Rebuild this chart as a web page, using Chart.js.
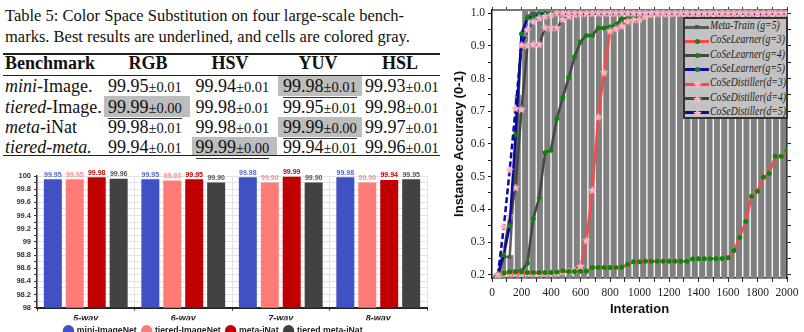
<!DOCTYPE html>
<html lang="en">
<head>
  <meta charset="UTF-8">
  <title>Color Space Substitution</title>
  <script src="https://cdn.jsdelivr.net/npm/chart.js@4"></script>
  <style>
    html, body { margin: 0; padding: 0; background: #fff; }
    body { width: 804px; height: 332px; position: relative; overflow: hidden; }
    #tabela { position: absolute; left: 0; top: 0; width: 440px; height: 160px; overflow: hidden;
      font-family: "Liberation Serif", "Times New Roman", serif; color: #111; }
    .cap { position: absolute; left: 5px; font-size: 16.5px; line-height: 20px; white-space: nowrap; }
    .regua { position: absolute; left: 3px; width: 440px; background: #222; }
    .cinza { position: absolute; background: #bdbdbd; }
    .cel { position: absolute; font-size: 18px; line-height: 20px; white-space: nowrap; }
    .cel small { font-size: 14.5px; }
    .cel.cab { font-weight: bold; }
    .sub { border-bottom: 1.2px solid #333; padding-bottom: 1px; }
    #barras { position: absolute; left: 0; top: 160px; }
    #linhas { position: absolute; left: 440px; top: 0; }
    #legenda { position: absolute; left: 683px; top: 17px; width: 101px; height: 98px;
      background: #c2c2c2; border: 2px solid #333; font-family: "Liberation Serif", serif;
      font-style: italic; font-size: 11.5px; color: #222; }
    .item { position: absolute; left: 0; height: 14px; width: 101px; }
    .amostra { position: absolute; left: 0; top: 5.5px; width: 24px; height: 3px; }
    .marca { position: absolute; }
    .item span.txt { position: absolute; left: 25px; top: -1px; white-space: nowrap;
      transform: scaleX(0.85); transform-origin: left center; }
  </style>
</head>
<body>
  <div id="tabela"></div>
  <canvas id="barras" width="440" height="185"></canvas>
  <canvas id="linhas" width="364" height="332"></canvas>
  <div id="legenda"></div>

  <script>
    // ---------- tabela ----------
    const colunasTabela = ['RGB', 'HSV', 'YUV', 'HSL'];
    const nomesItalico = ['mini', 'tiered', 'meta', 'tiered-meta.'];
    const nomesResto = ['-Image.', '-Image.', '-iNat', ''];
    const mediasTabela = [
      ['99.95', '99.94', '99.98', '99.93'],
      ['99.99', '99.98', '99.95', '99.98'],
      ['99.98', '99.98', '99.99', '99.97'],
      ['99.94', '99.99', '99.94', '99.96']
    ];
    const desviosTabela = [
      ['0.01', '0.01', '0.01', '0.01'],
      ['0.00', '0.01', '0.01', '0.01'],
      ['0.01', '0.01', '0.00', '0.01'],
      ['0.01', '0.00', '0.01', '0.01']
    ];
    const melhorColuna = [2, 0, 2, 1];

    // ---------- barras (n-way) ----------
    const categoriasWay = ['5-way', '6-way', '7-way', '8-way'];
    const miniImageNet = [99.95, 99.95, 99.98, 99.98];
    const tieredImageNet = [99.95, 99.93, 99.90, 99.90];
    const metaINat = [99.98, 99.95, 99.99, 99.94];
    const tieredMetaINat = [99.96, 99.90, 99.90, 99.95];

    // ---------- curvas de treino ----------
    const iteracoes = [40, 80, 120, 160, 200, 240, 280, 320, 360, 400,
      440, 480, 520, 560, 600, 640, 680, 720, 760, 800,
      840, 880, 920, 960, 1000, 1040, 1080, 1120, 1160, 1200,
      1240, 1280, 1320, 1360, 1400, 1440, 1480, 1520, 1560, 1600,
      1640, 1680, 1720, 1760, 1800, 1840, 1880, 1920, 1960, 2000];
    const metaTrain = [0.200, 0.254, 0.254, 0.560, 0.930, 0.990, 1.000, 1.000, 1.000, 1.000,
      1.000, 1.000, 1.000, 1.000, 1.000, 1.000, 1.000, 1.000, 1.000, 1.000,
      1.000, 1.000, 1.000, 1.000, 1.000, 1.000, 1.000, 1.000, 1.000, 1.000,
      1.000, 1.000, 1.000, 1.000, 1.000, 1.000, 1.000, 1.000, 1.000, 1.000,
      1.000, 1.000, 1.000, 1.000, 1.000, 1.000, 1.000, 1.000, 1.000, 1.000];
    const learnerG3 = [0.200, 0.205, 0.208, 0.208, 0.208, 0.207, 0.207, 0.207, 0.207, 0.207,
      0.208, 0.212, 0.210, 0.210, 0.211, 0.211, 0.222, 0.222, 0.222, 0.222,
      0.222, 0.223, 0.232, 0.240, 0.240, 0.241, 0.241, 0.241, 0.241, 0.241,
      0.241, 0.241, 0.241, 0.248, 0.249, 0.249, 0.249, 0.249, 0.250, 0.252,
      0.274, 0.314, 0.363, 0.440, 0.455, 0.498, 0.510, 0.562, 0.562, 0.580];
    const learnerG4 = [0.200, 0.205, 0.210, 0.210, 0.212, 0.235, 0.372, 0.435, 0.574, 0.581,
      0.678, 0.742, 0.803, 0.867, 0.912, 0.932, 0.932, 0.955, 0.955, 0.958,
      0.965, 0.983, 0.986, 0.988, 0.988, 0.992, 0.995, 0.998, 0.998, 0.998,
      0.999, 0.999, 0.999, 0.999, 0.999, 0.999, 0.999, 0.999, 0.999, 0.999,
      1.000, 1.000, 1.000, 1.000, 1.000, 1.000, 1.000, 1.000, 1.000, 1.000];
    const learnerG5 = [0.200, 0.260, 0.350, 0.629, 0.937, 0.985, 0.990, 0.995, 1.000, 1.000,
      1.000, 1.000, 1.000, 1.000, 1.000, 1.000, 1.000, 1.000, 1.000, 1.000,
      1.000, 1.000, 1.000, 1.000, 1.000, 1.000, 1.000, 1.000, 1.000, 1.000,
      1.000, 1.000, 1.000, 1.000, 1.000, 1.000, 1.000, 1.000, 1.000, 1.000,
      1.000, 1.000, 1.000, 1.000, 1.000, 1.000, 1.000, 1.000, 1.000, 1.000];
    const distillerD3 = [0.200, 0.203, 0.204, 0.204, 0.204, 0.204, 0.204, 0.204, 0.204, 0.205,
      0.205, 0.208, 0.210, 0.212, 0.225, 0.304, 0.458, 0.682, 0.818, 0.945,
      0.952, 0.960, 0.975, 0.979, 0.980, 0.988, 0.995, 0.998, 0.998, 0.998,
      0.999, 0.999, 0.999, 0.999, 0.999, 0.999, 0.999, 0.999, 0.999, 0.999,
      1.000, 1.000, 1.000, 1.000, 1.000, 1.000, 1.000, 1.000, 1.000, 1.000];
    const distillerD4 = [0.200, 0.270, 0.379, 0.466, 0.705, 0.900, 0.904, 0.904, 0.955, 0.955,
      0.955, 0.980, 0.990, 0.995, 0.998, 0.998, 0.999, 1.000, 1.000, 1.000,
      1.000, 1.000, 1.000, 1.000, 1.000, 1.000, 1.000, 1.000, 1.000, 1.000,
      1.000, 1.000, 1.000, 1.000, 1.000, 1.000, 1.000, 1.000, 1.000, 1.000,
      1.000, 1.000, 1.000, 1.000, 1.000, 1.000, 1.000, 1.000, 1.000, 1.000];
    const distillerD5 = [0.200, 0.346, 0.520, 0.708, 0.902, 0.948, 0.973, 0.985, 0.990, 0.995,
      1.000, 1.000, 1.000, 1.000, 1.000, 1.000, 1.000, 1.000, 1.000, 1.000,
      1.000, 1.000, 1.000, 1.000, 1.000, 1.000, 1.000, 1.000, 1.000, 1.000,
      1.000, 1.000, 1.000, 1.000, 1.000, 1.000, 1.000, 1.000, 1.000, 1.000,
      1.000, 1.000, 1.000, 1.000, 1.000, 1.000, 1.000, 1.000, 1.000, 1.000];
    // colunas cinza do Meta-Train ao fundo (uma a cada 50 iterações)
    const colunasMeta = [25, 75, 125, 175, 225, 275, 325, 375, 425, 475,
      525, 575, 625, 675, 725, 775, 825, 875, 925, 975,
      1025, 1075, 1125, 1175, 1225, 1275, 1325, 1375, 1425, 1475,
      1525, 1575, 1625, 1675, 1725, 1775, 1825, 1875, 1925, 1975];
    const alturasMeta = [0.200, 0.254, 0.260, 0.750, 1.010, 1.010, 1.010, 1.010, 1.010, 1.010,
      1.010, 1.010, 1.010, 1.010, 1.010, 1.010, 1.010, 1.010, 1.010, 1.010,
      1.010, 1.010, 1.010, 1.010, 1.010, 1.010, 1.010, 1.010, 1.010, 1.010,
      1.010, 1.010, 1.010, 1.010, 1.010, 1.010, 1.010, 1.010, 1.010, 1.010];

    // ===== monta a tabela =====
    const tab = document.getElementById('tabela');
    function add(html, cls, css) {
      const d = document.createElement('div');
      d.className = cls;
      d.innerHTML = html;
      Object.assign(d.style, css);
      tab.appendChild(d);
      return d;
    }
    add('Table 5: Color Space Substitution on four large-scale bench-', 'cap', { top: '6px' });
    add('marks. Best results are underlined, and cells are colored gray.', 'cap', { top: '27px' });
    add('', 'regua', { top: '53px', height: '1.6px' });
    add('', 'regua', { top: '74.5px', height: '1px' });
    add('', 'regua', { top: '154.5px', height: '1.6px' });

    const xCol = [108, 195.5, 283, 365];
    const cinzaX = [[104, 86], [191.5, 85.5], [278, 84], [362, 80]];
    const yLinha = [86, 106.5, 127, 147];
    const cinzaY = [[76, 20], [96, 21], [117, 20], [137, 18]];
    const centroCab = [148, 230, 318, 400];

    melhorColuna.forEach((c, r) => {
      add('', 'cinza', { left: cinzaX[c][0] + 'px', width: cinzaX[c][1] + 'px',
        top: cinzaY[r][0] + 'px', height: cinzaY[r][1] + 'px' });
    });
    add('Benchmark', 'cel cab', { left: '5px', top: '53px' });
    colunasTabela.forEach((t, c) => {
      const d = add(t, 'cel cab', { left: centroCab[c] + 'px', top: '53px' });
      d.style.transform = 'translateX(-50%)';
    });
    yLinha.forEach((y, r) => {
      add('<i>' + nomesItalico[r] + '</i>' + nomesResto[r], 'cel', { left: '5px', top: (y - 10) + 'px' });
      colunasTabela.forEach((t, c) => {
        let txt = mediasTabela[r][c] + '<small>±' + desviosTabela[r][c] + '</small>';
        if (melhorColuna[r] === c) txt = '<span class="sub">' + txt + '</span>';
        add(txt, 'cel', { left: xCol[c] + 'px', top: (y - 10) + 'px' });
      });
    });

    // ===== gráfico de barras =====
    const rotulosBarras = {
      id: 'rotulosBarras',
      afterDatasetsDraw(chart) {
        const ctx = chart.ctx;
        ctx.save();
        ctx.font = 'bold 7px "Liberation Sans Narrow", "Liberation Sans", sans-serif';
        ctx.textAlign = 'center';
        ctx.textBaseline = 'bottom';
        chart.data.datasets.forEach((ds, i) => {
          chart.getDatasetMeta(i).data.forEach((bar, j) => {
            ctx.fillStyle = ds.corRotulo;
            ctx.fillText(ds.data[j].toFixed(2), bar.x, bar.y - 1);
          });
        });
        ctx.restore();
      }
    };

    new Chart(document.getElementById('barras'), {
      type: 'bar',
      data: {
        labels: categoriasWay,
        datasets: [
          { label: 'mini-ImageNet', data: miniImageNet, backgroundColor: '#3f51c5', corRotulo: '#5565d5' },
          { label: 'tiered-ImageNet', data: tieredImageNet, backgroundColor: '#ff7b78', corRotulo: '#ff8a88' },
          { label: 'meta-iNat', data: metaINat, backgroundColor: '#c00000', corRotulo: '#c80000' },
          { label: 'tiered meta-iNat', data: tieredMetaINat, backgroundColor: '#424242', corRotulo: '#555555' }
        ]
      },
      options: {
        responsive: false,
        animation: false,
        categoryPercentage: 0.9,
        barPercentage: 0.82,
        layout: { padding: { top: 16, right: 13, left: 0, bottom: 0 } },
        plugins: {
          tooltip: { enabled: false },
          legend: {
            position: 'bottom',
            labels: {
              usePointStyle: true, pointStyle: 'circle', boxWidth: 8, boxHeight: 8, padding: 6,
              color: '#222', font: { family: 'Liberation Sans', weight: 'bold', size: 8.7 }
            }
          }
        },
        scales: {
          x: {
            ticks: { color: '#222', padding: 2, font: { family: 'Liberation Sans', style: 'italic', weight: 'bold', size: 9 } },
            grid: { color: '#e3e3e3', tickColor: '#333', tickLength: 3, offset: true },
            border: { color: '#222', width: 2 },
            afterFit: s => { s.height = 12.6; }
          },
          y: {
            min: 98, max: 100,
            ticks: {
              stepSize: 0.1, autoSkip: false, color: '#333', padding: 3,
              font: { family: 'Liberation Sans', weight: 'bold', size: 7.5 },
              callback: v => (Math.round(v * 10) % 2 === 0 ? String(parseFloat(v.toFixed(1))) : '')
            },
            grid: { color: '#e3e3e3', tickColor: '#333', tickLength: 3 },
            border: { color: '#333', width: 1.5 },
            afterFit: s => { s.width = 37; }
          }
        }
      },
      plugins: [rotulosBarras]
    });

    // ===== gráfico de linhas =====
    function estrela(cor, r) {
      const c = document.createElement('canvas');
      c.width = c.height = Math.ceil(2 * r + 2);
      const g = c.getContext('2d');
      g.fillStyle = cor;
      g.beginPath();
      for (let k = 0; k < 10; k++) {
        const a = -Math.PI / 2 + k * Math.PI / 5;
        const rr = k % 2 ? r * 0.5 : r;
        g.lineTo(c.width / 2 + rr * Math.cos(a), c.height / 2 + rr * Math.sin(a));
      }
      g.closePath();
      g.fill();
      return c;
    }
    const estrelaRosa = estrela('#ffb3c1', 4.5);

    const VERM = '#ff4747', CINZA = '#454545', AZUL = '#0a0a9e', VERDE = '#0a870a';
    const pontos = arr => iteracoes.map((x, i) => ({ x: x, y: arr[i] }));
    function serie(label, arr, cor, marca, ordem, extra) {
      const base = {
        label: label, data: pontos(arr), borderColor: cor, borderWidth: 2.5, tension: 0,
        order: ordem, xAxisID: 'x', yAxisID: 'y', fill: false
      };
      if (marca === 'verde') {
        Object.assign(base, { pointStyle: 'circle', pointRadius: 2.5, pointBackgroundColor: VERDE, pointBorderWidth: 0 });
      } else if (marca === 'estrela') {
        Object.assign(base, { pointStyle: estrelaRosa, pointRadius: 4.5 });
      } else {
        Object.assign(base, { pointStyle: 'rect', pointRadius: 2.2, pointBackgroundColor: '#555', pointBorderWidth: 0 });
      }
      return Object.assign(base, extra || {});
    }

    new Chart(document.getElementById('linhas'), {
      type: 'line',
      data: {
        datasets: [
          {
            type: 'bar', label: 'fundo', data: colunasMeta.map((x, i) => ({ x: x, y: alturasMeta[i] })),
            backgroundColor: '#808080', barPercentage: 0.82, categoryPercentage: 1,
            order: 20, xAxisID: 'x', yAxisID: 'y'
          },
          serie('Meta-Train (g=5)', metaTrain, '#5a5a5a', 'quadrado', 8),
          serie('CoSeLearner(g=4)', learnerG4, CINZA, 'verde', 7),
          serie('CoSeDistiller(d=4)', distillerD4, CINZA, 'estrela', 6),
          serie('CoSeLearner(g=3)', learnerG3, VERM, 'verde', 4),
          serie('CoSeDistiller(d=3)', distillerD3, VERM, 'estrela', 5),
          serie('CoSeLearner(g=5)', learnerG5, AZUL, 'verde', 2),
          serie('CoSeDistiller(d=5)', distillerD5, AZUL, 'estrela', 1, { borderDash: [6, 3] })
        ]
      },
      options: {
        responsive: false,
        animation: false,
        layout: { padding: { top: 0, right: 0, left: 0, bottom: 14 } },
        plugins: { legend: { display: false }, tooltip: { enabled: false } },
        scales: {
          x: {
            type: 'linear', position: 'bottom', min: 0, max: 2000, offset: false,
            ticks: {
              stepSize: 100, autoSkip: false, maxRotation: 0, padding: 4, color: '#222',
              font: { family: 'Liberation Serif', size: 11.5 },
              callback: v => (v % 200 === 0 ? String(v) : '')
            },
            grid: { drawOnChartArea: false, offset: false, tickLength: 4, color: '#222' },
            border: { color: '#111', width: 1.5 },
            title: { display: true, text: 'Interation', color: '#111', padding: { top: 0, bottom: 1 },
              font: { family: 'Liberation Sans', weight: 'bold', size: 13 } },
            afterFit: s => { s.height = 40; }
          },
          x2: {
            type: 'linear', position: 'top', min: 0, max: 2000, offset: false,
            ticks: { display: false, stepSize: 100 },
            grid: { drawOnChartArea: false, tickLength: 3, color: '#333' },
            border: { color: '#777', width: 2 },
            afterFit: s => { s.height = 8; }
          },
          y: {
            type: 'linear', position: 'left', min: 0.19, max: 1.01, beginAtZero: false,
            ticks: {
              stepSize: 0.05, includeBounds: false, autoSkip: false, padding: 3, color: '#222',
              font: { family: 'Liberation Serif', size: 11.5 },
              callback: v => (Math.abs(v * 10 - Math.round(v * 10)) < 1e-6 ? v.toFixed(1) : '')
            },
            grid: { drawOnChartArea: false, tickLength: 4, color: '#222' },
            border: { color: '#111', width: 1.5 },
            title: { display: true, text: 'Instance Accuracy (0-1)', color: '#111', padding: { top: 12, bottom: 0 },
              font: { family: 'Liberation Sans', weight: 'bold', size: 13 } },
            afterFit: s => { s.width = 52; }
          },
          y2: {
            type: 'linear', position: 'right', min: 0.19, max: 1.01, beginAtZero: false,
            ticks: { display: false, stepSize: 0.05, includeBounds: false },
            grid: { drawOnChartArea: false, tickLength: 4, color: '#222' },
            border: { color: '#111', width: 1.5 },
            afterFit: s => { s.width = 17; }
          }
        }
      }
    });

    // ===== legenda dentro do gráfico =====
    const legendaItens = [
      ['Meta-Train (g=5)', '#5a5a5a', 'quadrado'],
      ['CoSeLearner(g=3)', VERM, 'verde'],
      ['CoSeLearner(g=4)', CINZA, 'verde'],
      ['CoSeLearner(g=5)', AZUL, 'verde'],
      ['CoSeDistiller(d=3)', VERM, 'estrela'],
      ['CoSeDistiller(d=4)', CINZA, 'estrela'],
      ['CoSeDistiller(d=5)', AZUL, 'estrela']
    ];
    const leg = document.getElementById('legenda');
    legendaItens.forEach((it, i) => {
      const item = document.createElement('div');
      item.className = 'item';
      item.style.top = (1 + i * 14.3) + 'px';
      const am = document.createElement('div');
      am.className = 'amostra';
      am.style.background = it[1];
      item.appendChild(am);
      let m;
      if (it[2] === 'estrela') {
        m = estrela('#ffb3c1', 4.5);
        m.className = 'marca';
        m.style.left = '7px'; m.style.top = '2px';
      } else {
        m = document.createElement('div');
        m.className = 'marca';
        const r = it[2] === 'verde' ? 5 : 4.5;
        Object.assign(m.style, { left: (12 - r / 2) + 'px', top: (7 - r / 2) + 'px', width: r + 'px', height: r + 'px',
          background: it[2] === 'verde' ? VERDE : '#555', borderRadius: it[2] === 'verde' ? '50%' : '0' });
      }
      item.appendChild(m);
      const t = document.createElement('span');
      t.className = 'txt';
      t.textContent = it[0];
      item.appendChild(t);
      leg.appendChild(item);
    });
  </script>
</body>
</html>
